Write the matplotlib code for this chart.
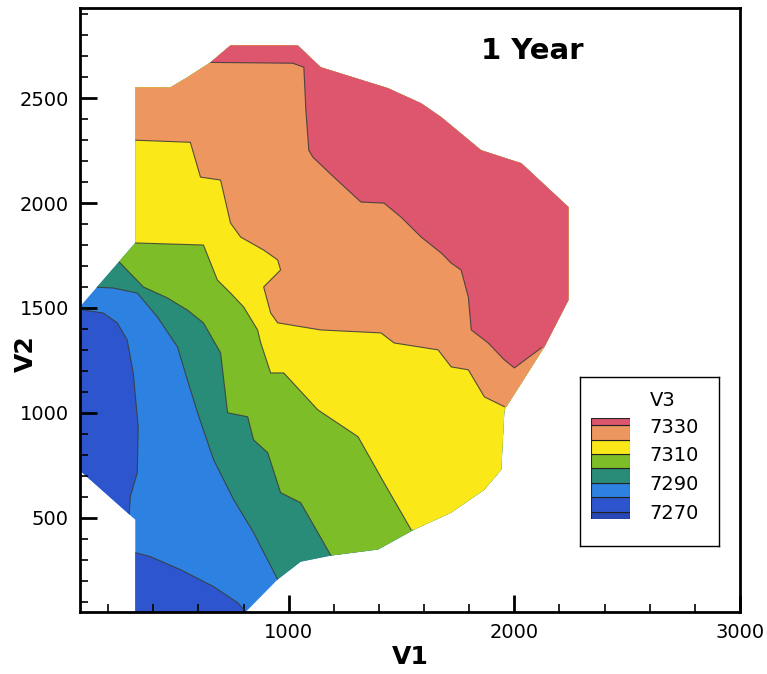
import numpy as np
import matplotlib.pyplot as plt
from matplotlib.patches import Polygon
from matplotlib.ticker import MultipleLocator

# Outline of the sampled (V1, V2) domain
hull_v1 = [320, 320, 70, 70, 320, 320, 476, 551, 653, 742, 1040, 1142, 1440, 1587, 1676,
           1853, 2031, 2240, 2240, 2133, 1956, 1942, 1867, 1720, 1556, 1396, 1187, 1053,
           951, 800]
hull_v2 = [40, 490, 729, 1500, 1810, 2552, 2552, 2600, 2671, 2752, 2752, 2648, 2548, 2476,
           2410, 2252, 2190, 1981, 1538, 1314, 1014, 729, 633, 524, 443, 348, 319, 290,
           205, 40]

# Contour lines of V3
iso_7330_v1 = [653, 1018, 1067, 1076, 1089, 1107, 1200, 1320, 1422, 1498, 1587, 1676, 1720,
               1764, 1796, 1809, 1884, 1956, 2000, 2120]
iso_7330_v2 = [2671, 2667, 2648, 2443, 2252, 2219, 2124, 2005, 2000, 1933, 1838, 1762, 1714,
               1681, 1552, 1395, 1333, 1252, 1214, 1310]

iso_7320_v1 = [320, 564, 609, 698, 742, 787, 889, 951, 964, 889, 920, 951, 1142, 1409, 1467,
               1662, 1720, 1796, 1867, 1956]
iso_7320_v2 = [2300, 2290, 2124, 2110, 1905, 1838, 1776, 1729, 1681, 1600, 1476, 1429, 1395,
               1381, 1333, 1300, 1219, 1205, 1076, 1029]

iso_7310_v1 = [320, 622, 684, 742, 800, 862, 876, 920, 978, 1129, 1307, 1422, 1542]
iso_7310_v2 = [1810, 1800, 1633, 1571, 1505, 1395, 1333, 1190, 1190, 1014, 886, 667, 443]

iso_7300_v1 = [249, 356, 462, 551, 622, 698, 729, 818, 844, 907, 964, 1053, 1129, 1187]
iso_7300_v2 = [1719, 1600, 1548, 1490, 1429, 1286, 1000, 981, 871, 810, 619, 571, 429, 319]

iso_7290_v1 = [150, 222, 329, 418, 507, 551, 596, 667, 756, 844, 951]
iso_7290_v2 = [1599, 1595, 1571, 1457, 1314, 1157, 1000, 776, 586, 429, 205]

# the 7280 line closes two separate low pockets
iso_7280a_v1 = [89, 178, 240, 284, 311, 333, 329, 298, 293]
iso_7280a_v2 = [1490, 1476, 1429, 1348, 1190, 933, 714, 600, 514]
iso_7280b_v1 = [320, 387, 520, 667, 773, 809]
iso_7280b_v2 = [333, 314, 252, 171, 95, 52]

# Legend levels and colours (low -> high)
legend_edges = [7265, 7270, 7280, 7290, 7300, 7310, 7320, 7330, 7335]
legend_colors = ['#2846B4', '#2D55CD', '#2D82E1', '#288C78', '#7DBE28', '#FAE819',
                 '#EE965F', '#DE556E']
legend_labels = [7270, 7290, 7310, 7330]

fig = plt.figure(figsize=(7.67, 6.74), dpi=100)
ax = fig.add_axes([0.1043, 0.092, 0.8605, 0.896])

# base fill of the domain: 7280-7290 band
hull = Polygon(np.column_stack([hull_v1, hull_v2]), closed=True,
               facecolor=legend_colors[2], edgecolor='none')
ax.add_patch(hull)


def fill_clipped(xs, ys, color):
    for p in ax.fill(xs, ys, color=color, lw=0):
        p.set_clip_path(hull)


def fill_above(v1, v2, color):
    # region to the upper right of a contour line
    xs = [-1000] + v1 + [5000, 5000, -1000]
    ys = [v2[0]] + v2 + [v2[-1], 5000, 5000]
    fill_clipped(xs, ys, color)


def draw_line(v1, v2):
    for ln in ax.plot(v1, v2, color='#3a3a3a', lw=0.8, alpha=0.85):
        ln.set_clip_path(hull)


# the two low pockets (7270-7280)
fill_clipped([-1000] + iso_7280a_v1 + [-1000],
             [iso_7280a_v2[0]] + iso_7280a_v2 + [iso_7280a_v2[-1]], legend_colors[1])
fill_clipped([-1000] + iso_7280b_v1 + [iso_7280b_v1[-1], -1000],
             [iso_7280b_v2[0]] + iso_7280b_v2 + [-1000, -1000], legend_colors[1])

fill_above(iso_7290_v1, iso_7290_v2, legend_colors[3])
fill_above(iso_7300_v1, iso_7300_v2, legend_colors[4])
fill_above(iso_7310_v1, iso_7310_v2, legend_colors[5])
fill_above(iso_7320_v1, iso_7320_v2, legend_colors[6])
fill_above(iso_7330_v1, iso_7330_v2, legend_colors[7])

for v1, v2 in [(iso_7280a_v1, iso_7280a_v2), (iso_7280b_v1, iso_7280b_v2),
               (iso_7290_v1, iso_7290_v2), (iso_7300_v1, iso_7300_v2),
               (iso_7310_v1, iso_7310_v2), (iso_7320_v1, iso_7320_v2),
               (iso_7330_v1, iso_7330_v2)]:
    draw_line(v1, v2)

ax.set_xlim(75, 3000)
ax.set_ylim(50, 2930)
ax.set_xticks([1000, 2000, 3000])
ax.set_yticks([500, 1000, 1500, 2000, 2500])
ax.xaxis.set_minor_locator(MultipleLocator(200))
ax.yaxis.set_minor_locator(MultipleLocator(100))
ax.tick_params(which='both', direction='in', top=False, right=False)
ax.tick_params(which='major', length=12, width=2, labelsize=14, pad=8)
ax.tick_params(which='minor', length=6, width=1.2)
for s in ax.spines.values():
    s.set_linewidth(2)

ax.set_xlabel('V1', fontsize=18, fontweight='bold', labelpad=2)
ax.set_ylabel('V2', fontsize=18, fontweight='bold')
ax.yaxis.set_label_coords(-0.064, 0.428)

ax.text(0.685, 0.929, '1 Year', transform=ax.transAxes, ha='center', va='center',
        fontsize=21, fontweight='bold')

# Legend box
lax = fig.add_axes([0.756, 0.190, 0.181, 0.251])
lax.set_xticks([])
lax.set_yticks([])
for s in lax.spines.values():
    s.set_linewidth(1)
fig.text(0.847, 0.4065, 'V3', fontsize=14, va='center')

cax = fig.add_axes([0.7705, 0.230, 0.0508, 0.150])
for lo, hi, c in zip(legend_edges[:-1], legend_edges[1:], legend_colors):
    cax.bar(0.5, hi - lo, bottom=lo, width=1, color=c, edgecolor='#222222', lw=0.8)
cax.set_xlim(0, 1)
cax.set_ylim(legend_edges[0], legend_edges[-1])
cax.set_xticks([])
cax.yaxis.tick_right()
cax.set_yticks(legend_labels)
cax.tick_params(axis='y', length=0, labelsize=14, pad=14)
for s in cax.spines.values():
    s.set_visible(False)

fig.savefig('out.png', dpi=100)
